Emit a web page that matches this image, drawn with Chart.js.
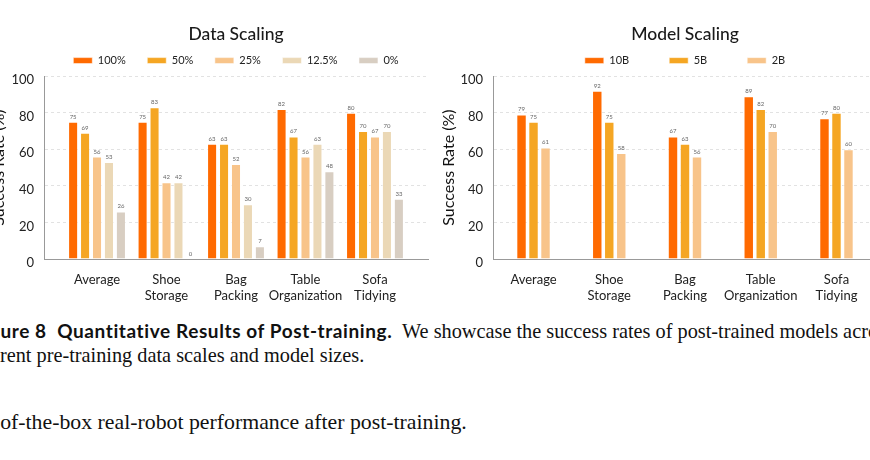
<!DOCTYPE html>
<html>
<head>
<meta charset="utf-8">
<script src="https://cdn.jsdelivr.net/npm/chart.js@4.4.1/dist/chart.umd.min.js"></script>
<style>
    html, body { margin: 0; padding: 0; background: #fff; }
    body { width: 870px; height: 460px; overflow: hidden; position: relative; }
    #dataCanvas { position: absolute; left: -15px; top: 0; }
    #modelCanvas { position: absolute; left: 435px; top: 0; }
    .cap { position: absolute; white-space: nowrap; font-family: "Liberation Serif", serif; font-size: 20.3px; line-height: 22px; color: #111; }
    .cap b { font-family: Lato, sans-serif; font-weight: bold; font-size: 19px; letter-spacing: 0.6px; }
    #cap3 { font-size: 21.8px; }
</style>
</head>
<body>
<canvas id="dataCanvas" width="455" height="310"></canvas>
<canvas id="modelCanvas" width="450" height="310"></canvas>

<div class="cap" id="cap1"><b><span class="hide">Fig</span>ure 8&nbsp; Quantitative Results of Post-training.</b>&nbsp; We showcase the success rates of post-trained models across</div>
<div class="cap" id="cap2"><span class="hide">diffe</span>rent pre-training data scales and model sizes.</div>
<div class="cap" id="cap3"><span class="hide">out-</span>of-the-box real-robot performance after post-training.</div>

<script>
// Task categories (same for both panels)
const tasks = ['Average', 'Shoe Storage', 'Bag Packing', 'Table Organization', 'Sofa Tidying'];

// Data Scaling panel
const dataScaleNames = ['100%', '50%', '25%', '12.5%', '0%'];
const data100 = [75, 75, 63, 82, 80];
const data50 = [69, 83, 63, 67, 70];
const data25 = [56, 42, 52, 56, 67];
const data12 = [53, 42, 30, 63, 70];
const data0 = [26, 0, 7, 48, 33];

// Model Scaling panel
const modelNames = ['10B', '5B', '2B'];
const model10B = [79, 92, 67, 89, 77];
const model5B = [75, 75, 63, 82, 80];
const model2B = [61, 58, 56, 70, 60];

const yTicks = [0, 20, 40, 60, 80, 100];

const colors = ['#ff6a00', '#f5a623', '#f8c48a', '#ebd8b6', '#d8cec2'];

Chart.defaults.font.family = 'Lato, sans-serif';
Chart.defaults.color = '#222';

// Small value labels above each bar
const barValues = {
    id: 'barValues',
    afterDatasetsDraw(chart) {
        const ctx = chart.ctx;
        ctx.save();
        ctx.font = '6px Lato, sans-serif';
        ctx.fillStyle = '#666';
        ctx.textAlign = 'center';
        ctx.textBaseline = 'bottom';
        chart.data.datasets.forEach((ds, i) => {
            chart.getDatasetMeta(i).data.forEach((bar, j) => {
                ctx.fillText(ds.data[j].y, bar.x, bar.y - 2);
            });
        });
        ctx.restore();
    }
};

function buildChart(canvasId, title, names, series, opts) {
    const datasets = series.map((vals, i) => ({
        label: names[i],
        data: vals.map((v, k) => ({ x: k, y: v })),
        backgroundColor: colors[i],
        borderColor: 'rgba(255,255,255,0.55)',
        borderWidth: 1,
        categoryPercentage: opts.catPct,
        barPercentage: opts.barPct
    }));

    return new Chart(document.getElementById(canvasId), {
        type: 'bar',
        data: { datasets },
        plugins: [barValues],
        options: {
            responsive: false,
            animation: false,
            layout: { padding: { top: 2.5, right: opts.padRight, bottom: 0, left: 0 } },
            plugins: {
                tooltip: { enabled: false },
                title: {
                    display: true,
                    text: title,
                    fullSize: false,
                    color: '#1a1a1a',
                    font: { size: 17.5, weight: '500' },
                    padding: { top: 21.3, bottom: opts.titleBottom }
                },
                legend: {
                    display: true,
                    fullSize: false,
                    labels: {
                        boxWidth: 19,
                        boxHeight: 6,
                        padding: opts.legendPad,
                        color: '#222',
                        font: { size: 11 }
                    }
                }
            },
            scales: {
                x: {
                    type: 'linear',
                    offset: false,
                    min: -opts.xPad,
                    max: tasks.length - 1 + opts.xPad,
                    afterBuildTicks: axis => { axis.ticks = tasks.map((t, i) => ({ value: i })); },
                    afterFit: axis => { axis.height = 51; },
                    grid: { display: false, offset: false },
                    border: { display: true, color: '#999', width: 1 },
                    ticks: {
                        autoSkip: false,
                        maxRotation: 0,
                        padding: 5,
                        font: { size: 13 },
                        color: '#222',
                        callback: v => tasks[v] ? tasks[v].split(' ') : ''
                    }
                },
                y: {
                    min: 0,
                    max: 100,
                    afterBuildTicks: axis => { axis.ticks = yTicks.map(v => ({ value: v })); },
                    afterFit: axis => { axis.width = opts.yWidth; },
                    grid: { color: '#e2e2e2', drawTicks: false },
                    border: { display: true, color: '#999', width: 1, dash: [3, 3] },
                    ticks: { padding: 10, labelOffset: 4, font: { size: 13 }, color: '#222' },
                    title: {
                        display: true,
                        text: 'Success Rate (%)',
                        color: '#111',
                        font: { size: 16 },
                        padding: { top: 4, bottom: 4 }
                    }
                }
            }
        }
    });
}

buildChart('dataCanvas', 'Data Scaling', dataScaleNames,
    [data100, data50, data25, data12, data0],
    { catPct: 0.86, barPct: 0.84, xPad: 0.763, padRight: 12, yWidth: 59, legendPad: 21.5, titleBottom: -11.2 });

buildChart('modelCanvas', 'Model Scaling', modelNames,
    [model10B, model5B, model2B],
    { catPct: 0.475, barPct: 0.87, xPad: 0.535, padRight: 8, yWidth: 58, legendPad: 40, titleBottom: -29.7 });

// Caption lines are cut at the left edge like the reference crop
[['cap1', 320], ['cap2', 344], ['cap3', 411]].forEach(([id, top]) => {
    const el = document.getElementById(id);
    const hidden = el.querySelector('.hide');
    el.style.top = top + 'px';
    el.style.left = (-hidden.offsetWidth) + 'px';
});
</script>
</body>
</html>
